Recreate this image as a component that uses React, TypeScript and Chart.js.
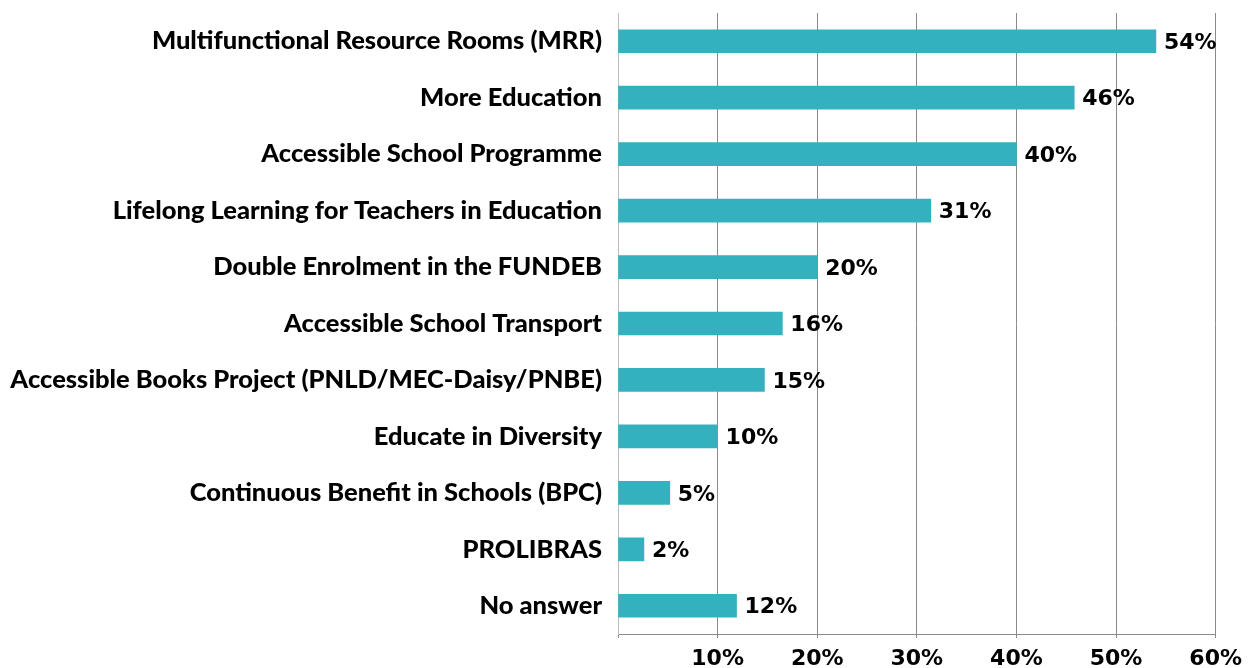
import React, { useEffect, useRef } from "react";
import { Chart, registerables } from "chart.js";

Chart.register(...registerables);

const categories: string[] = [
  "Multifunctional Resource Rooms (MRR)",
  "More Education",
  "Accessible School Programme",
  "Lifelong Learning for Teachers in Education",
  "Double Enrolment in the FUNDEB",
  "Accessible School Transport",
  "Accessible Books Project (PNLD/MEC-Daisy/PNBE)",
  "Educate in Diversity",
  "Continuous Benefit in Schools (BPC)",
  "PROLIBRAS",
  "No answer",
];

const values: number[] = [54, 45.8, 40, 31.4, 20, 16.5, 14.7, 10, 5.2, 2.6, 11.9];
const valueLabels: string[] = ["54%", "46%", "40%", "31%", "20%", "16%", "15%", "10%", "5%", "2%", "12%"];
const tickValues: number[] = [0, 10, 20, 30, 40, 50, 60];

const BAR_COLOR = "#34B1BF";

const dataLabelPlugin = {
  id: "dataLabels",
  afterDatasetsDraw(chart: any) {
    const ctx = chart.ctx;
    const meta = chart.getDatasetMeta(0);
    ctx.save();
    ctx.font = "bold 22px 'DejaVu Sans'";
    ctx.fillStyle = "#000";
    ctx.textAlign = "left";
    ctx.textBaseline = "middle";
    meta.data.forEach((bar: any, i: number) => {
      ctx.fillText(valueLabels[i], bar.x + 8, bar.y + 2);
    });
    ctx.restore();
  },
};

export default function App() {
  const canvasRef = useRef<HTMLCanvasElement | null>(null);

  useEffect(() => {
    if (!canvasRef.current) return;
    const chart = new Chart(canvasRef.current, {
      type: "bar",
      data: {
        labels: categories,
        datasets: [
          {
            data: values,
            backgroundColor: BAR_COLOR,
            barThickness: 23,
          },
        ],
      },
      options: {
        indexAxis: "y",
        animation: false,
        responsive: true,
        maintainAspectRatio: false,
        layout: { padding: { top: 13, right: 33, bottom: 0, left: 0 } },
        plugins: {
          legend: { display: false },
          tooltip: { enabled: false },
        },
        scales: {
          x: {
            min: 0,
            max: 60,
            afterBuildTicks: (axis: any) => {
              axis.ticks = tickValues.map((v) => ({ value: v }));
            },
            afterFit: (axis: any) => {
              axis.height = 34;
            },
            ticks: {
              callback: (v: any) => (Number(v) === 0 ? "" : `${v}%`),
              font: { family: "'DejaVu Sans'", weight: "bold", size: 22 },
              color: "#000",
              padding: 8,
              maxRotation: 0,
            },
            grid: {
              color: "#8a8a8a",
              lineWidth: 1,
              tickLength: 4,
            },
            border: { color: "#8a8a8a" },
          },
          y: {
            afterFit: (axis: any) => {
              axis.width = 618;
              axis.paddingTop = 0;
              axis.paddingBottom = 0;
            },
            ticks: {
              font: { family: "Lato", weight: "900", size: 25.5, lineHeight: 0.5 },
              color: "#000",
              padding: 8,
              autoSkip: false,
            },
            grid: { display: false },
            border: { color: "#bbbbbb" },
          },
        },
      },
      plugins: [dataLabelPlugin],
    });
    return () => chart.destroy();
  }, []);

  return (
    <div style={{ position: "fixed", left: 0, top: 0, width: 1250, height: 668, background: "#fff" }}>
      <canvas ref={canvasRef} />
    </div>
  );
}
